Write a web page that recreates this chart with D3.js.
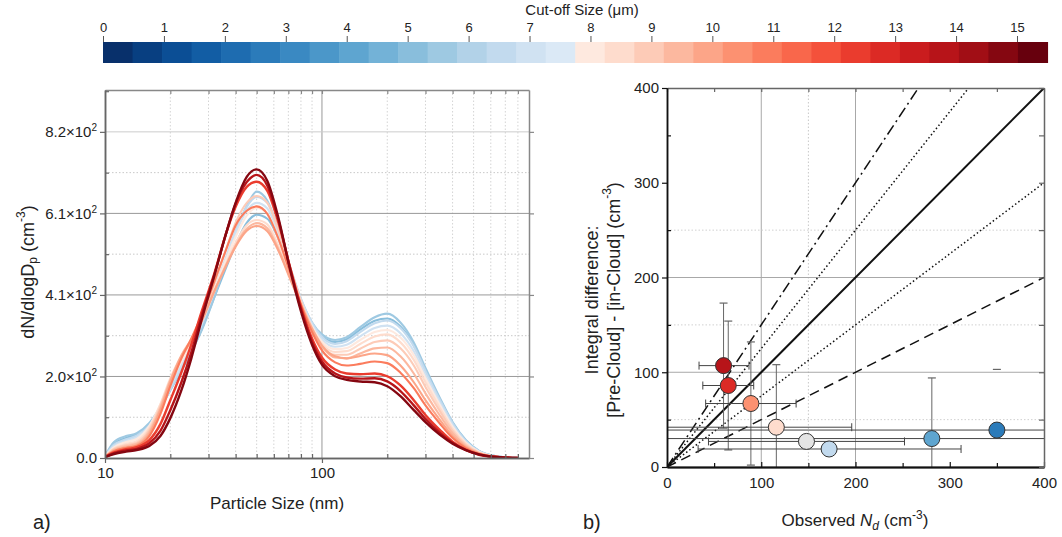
<!DOCTYPE html>
<html>
<head>
<meta charset="utf-8">
<script src="https://cdn.jsdelivr.net/npm/d3@7"></script>
<style>
  body { margin: 0; background: #fff; }
  svg { font-family: Arial, "Liberation Sans", sans-serif; }
</style>
</head>
<body>
<script>
// ---------- data ----------
// colour bar
const cutoffTicks = [0, 1, 2, 3, 4, 5, 6, 7, 8, 9, 10, 11, 12, 13, 14, 15];
const cutoffMax = 15.5;
const nLevels = 32;

// a) size distributions (nm, dN/dlogDp)
const diam = [10, 11, 12.5, 14, 16, 18, 20, 22.5, 25, 28, 32, 36, 40, 45, 50, 56, 63, 71, 80, 90,
  100, 115, 130, 150, 175, 200, 230, 265, 300, 350, 400, 460, 530, 610, 700, 800];
const curveCutoff = [5.0, 5.5, 6.5, 7.0, 8.0, 8.5, 9.0, 9.5, 10.0, 11.0, 12.5, 14.0, 15.0];
const dNdlogDp = [
  [5, 36, 50, 60, 85, 125, 170, 220, 265, 325, 405, 475, 535, 590, 610, 600, 550, 470, 392, 335, 305, 291, 298, 322, 344, 350, 330, 283, 220, 146, 88, 44, 17, 6, 2, 0],
  [5, 40, 55, 62, 88, 128, 172, 222, 268, 322, 405, 490, 565, 632, 668, 645, 572, 480, 398, 340, 310, 296, 303, 328, 353, 362, 340, 290, 226, 150, 90, 45, 18, 6, 2, 0],
  [5, 33, 47, 56, 82, 125, 172, 225, 272, 335, 420, 500, 570, 630, 655, 640, 572, 482, 400, 340, 304, 286, 293, 316, 338, 345, 326, 280, 218, 145, 87, 43, 17, 6, 2, 0],
  [4, 30, 43, 52, 80, 128, 180, 232, 280, 340, 425, 500, 565, 620, 640, 626, 560, 474, 395, 335, 298, 279, 284, 305, 326, 332, 313, 268, 208, 138, 82, 40, 16, 5, 1, 0],
  [4, 27, 40, 48, 80, 135, 190, 242, 288, 345, 425, 495, 555, 608, 627, 614, 550, 468, 390, 330, 292, 273, 276, 296, 316, 321, 302, 258, 200, 132, 78, 38, 15, 5, 1, 0],
  [4, 24, 35, 42, 75, 135, 200, 255, 295, 345, 420, 485, 540, 584, 597, 586, 532, 458, 385, 325, 286, 266, 268, 286, 305, 310, 290, 246, 190, 125, 73, 36, 14, 5, 1, 0],
  [3, 22, 32, 38, 70, 130, 195, 252, 295, 350, 440, 520, 590, 640, 657, 640, 572, 482, 395, 327, 282, 259, 259, 274, 291, 295, 275, 232, 178, 117, 68, 33, 13, 4, 1, 0],
  [3, 20, 29, 35, 65, 125, 195, 258, 298, 348, 420, 482, 533, 575, 589, 576, 524, 455, 385, 322, 280, 252, 250, 262, 275, 277, 255, 212, 162, 106, 62, 30, 12, 4, 1, 0],
  [3, 18, 26, 32, 60, 120, 190, 255, 295, 345, 420, 480, 530, 570, 582, 569, 520, 452, 384, 324, 282, 255, 250, 256, 262, 258, 232, 190, 145, 95, 55, 27, 11, 4, 1, 0],
  [3, 17, 25, 30, 55, 110, 180, 250, 300, 360, 445, 520, 583, 620, 631, 612, 550, 468, 385, 316, 270, 240, 232, 236, 242, 238, 214, 175, 132, 86, 50, 25, 10, 3, 1, 0],
  [3, 14, 22, 27, 45, 85, 145, 215, 285, 370, 465, 560, 630, 680, 693, 670, 590, 482, 380, 300, 252, 222, 212, 210, 212, 205, 182, 145, 108, 70, 41, 21, 9, 3, 1, 0],
  [2, 12, 19, 23, 37, 68, 120, 190, 265, 360, 462, 560, 638, 692, 710, 683, 597, 480, 374, 292, 242, 212, 202, 199, 200, 192, 168, 132, 98, 63, 38, 20, 8, 3, 1, 0],
  [2, 10, 16, 20, 30, 55, 100, 170, 250, 350, 460, 560, 640, 705, 724, 695, 602, 477, 368, 284, 234, 205, 196, 192, 190, 180, 155, 120, 90, 58, 36, 20, 9, 3, 1, 0]
];
const yTicksA = [0, 204.5, 409, 613.5, 818];
const yMantA = ['0.0', '2.0', '4.1', '6.1', '8.2'];
const xMinorA = [20, 30, 40, 50, 60, 70, 80, 90, 200, 300, 400, 500, 600, 700, 800];

// b) integral difference vs observed Nd
const obsNd = [60, 65, 89, 116, 148, 172, 281, 350];
const intDiff = [107, 86, 67, 42, 27, 19, 30, 39];
const ndLo = [34, 38, 41, -60, 44, 33, -500, -500];
const ndHi = [87, 92, 137, 196, 252, 312, 900, 900];
const diffLo = [41, 18, 2, -25, null, null, -35, null];
const diffHi = [173, 154, 132, 108, null, null, 94, 103];
const pointCutoff = [14.0, 12.8, 10.5, 8.5, 7.8, 6.5, 4.0, 2.5];
const refSlopes = [1.5, 1.25, 1, 0.75, 0.5];
const refDash = ['11,4,2,4', '1.5,2.5', null, '1.5,2.5', '10,6'];

// ---------- setup ----------
const svg = d3.select('body')
  .append('svg')
  .attr('width', 1062)
  .attr('height', 537);

const step = cutoffMax / nLevels;
const palette = d3.range(nLevels).map(i => i < nLevels / 2
  ? d3.interpolateBlues(1 - i * 0.86 / 15)
  : d3.interpolateReds(0.07 + (i - 16) * 0.93 / 15));
const colorOf = v => v >= 7.6 && v < 7.9 ? '#e4e4e4' : palette[Math.min(nLevels - 1, Math.floor(v / step))];

// ---------- colour bar ----------
const cb = d3.scaleLinear().domain([0, 15]).range([103, 1017]);

svg.append('g')
  .selectAll('rect')
  .data(palette)
  .enter()
  .append('rect')
  .attr('x', (d, i) => cb(i * step))
  .attr('y', 42)
  .attr('width', (d, i) => cb((i + 1) * step) - cb(i * step) + 0.6)
  .attr('height', 21)
  .attr('fill', d => d);

const cbAxis = svg.append('g')
  .attr('transform', 'translate(0,42)')
  .call(d3.axisTop(cb).tickValues(cutoffTicks).tickSize(6).tickPadding(4));
cbAxis.select('.domain').remove();
cbAxis.selectAll('line').attr('stroke', '#555');
cbAxis.selectAll('text').attr('font-size', 13).attr('fill', '#222');

svg.append('text')
  .text('Cut-off Size (μm)')
  .attr('x', 582)
  .attr('y', 15)
  .attr('text-anchor', 'middle')
  .attr('font-size', 15)
  .attr('fill', '#222');

// ---------- a) ----------
const xA = d3.scaleLog().domain([10, 900]).range([105, 529]);
const yA = d3.scaleLinear().domain([0, 923]).range([458, 90]);

const gA = svg.append('g');

gA.append('clipPath').attr('id', 'clipA')
  .append('rect')
  .attr('x', 105).attr('y', 90)
  .attr('width', 424).attr('height', 368);

const yMinorA = d3.pairs(yTicksA).map(p => (p[0] + p[1]) / 2);

gA.selectAll('line.vminor')
  .data(xMinorA)
  .enter()
  .append('line')
  .attr('x1', d => xA(d)).attr('x2', d => xA(d))
  .attr('y1', 90).attr('y2', 458)
  .attr('stroke', '#d4d4d4')
  .attr('stroke-dasharray', '1.5,2');

gA.append('line')
  .attr('x1', xA(100)).attr('x2', xA(100))
  .attr('y1', 90).attr('y2', 458)
  .attr('stroke', '#999');

gA.selectAll('line.hminor')
  .data(yMinorA)
  .enter()
  .append('line')
  .attr('x1', 105).attr('x2', 529)
  .attr('y1', d => yA(d)).attr('y2', d => yA(d))
  .attr('stroke', '#c8c8c8')
  .attr('stroke-dasharray', '1.5,2');

gA.selectAll('line.hmajor')
  .data(yTicksA.slice(1))
  .enter()
  .append('line')
  .attr('x1', 105).attr('x2', 529)
  .attr('y1', d => yA(d)).attr('y2', d => yA(d))
  .attr('stroke', (d, i) => i === 3 ? '#ccc' : '#999');

const lineA = d3.line()
  .x(d => xA(d[0]))
  .y(d => yA(d[1]))
  .curve(d3.curveMonotoneX);

gA.append('g')
  .attr('clip-path', 'url(#clipA)')
  .selectAll('path')
  .data(dNdlogDp)
  .enter()
  .append('path')
  .attr('d', ys => lineA(diam.map((x, i) => [x, ys[i]])))
  .attr('fill', 'none')
  .attr('stroke', (d, i) => colorOf(curveCutoff[i]))
  .attr('stroke-width', (d, i) => curveCutoff[i] > 11 ? 2.4 : 2.1);

function styleAxis(g, col) {
  g.select('.domain').attr('stroke', col).attr('stroke-width', 1.5);
  g.selectAll('line').attr('stroke', col).attr('stroke-width', 1.2);
  g.selectAll('text').attr('font-size', 15).attr('fill', '#222');
}

// bottom
gA.append('g').attr('transform', 'translate(0,458)')
  .call(d3.axisBottom(xA).tickValues([10, 100]).tickFormat(d3.format('d')).tickSize(5).tickPadding(4).tickSizeOuter(0))
  .call(g => styleAxis(g, '#666'));
gA.append('g').attr('transform', 'translate(0,458)')
  .call(d3.axisBottom(xA).tickValues(xMinorA).tickFormat('').tickSize(-4).tickSizeOuter(0))
  .call(g => styleAxis(g, '#666'));
// top
gA.append('g').attr('transform', 'translate(0,90)')
  .call(d3.axisTop(xA).tickValues(xMinorA.concat([100])).tickFormat('').tickSize(-4).tickSizeOuter(0))
  .call(g => styleAxis(g, '#888'));
// left
gA.append('g').attr('transform', 'translate(105,0)')
  .call(d3.axisLeft(yA).tickValues(yTicksA).tickSize(5).tickPadding(3).tickSizeOuter(0))
  .call(g => styleAxis(g, '#666'))
  .selectAll('text')
  .each(function (d) {
    const i = yTicksA.indexOf(d);
    const t = d3.select(this).text(null);
    t.append('tspan').text(yMantA[i] + (i ? '×10' : ''));
    if (i) t.append('tspan').attr('dy', -6).attr('font-size', 10).text('2');
  });
gA.append('g').attr('transform', 'translate(105,0)')
  .call(d3.axisLeft(yA).tickValues(yMinorA.concat([920])).tickFormat('').tickSize(-4).tickSizeOuter(0))
  .call(g => styleAxis(g, '#666'));
// right
gA.append('g').attr('transform', 'translate(529,0)')
  .call(d3.axisRight(yA).tickValues(yTicksA).tickFormat('').tickSize(5).tickSizeOuter(0))
  .call(g => styleAxis(g, '#888'));

gA.append('text')
  .attr('transform', 'translate(28,272) rotate(-90)')
  .attr('text-anchor', 'middle')
  .attr('dominant-baseline', 'central')
  .attr('font-size', 18)
  .attr('fill', '#222')
  .call(t => {
    t.append('tspan').text('dN/dlogD');
    t.append('tspan').attr('dy', 5).attr('font-size', 12).text('p');
    t.append('tspan').attr('dy', -5).text(' (cm');
    t.append('tspan').attr('dy', -7).attr('font-size', 12).text('-3');
    t.append('tspan').attr('dy', 7).text(')');
  });

gA.append('text')
  .text('Particle Size (nm)')
  .attr('x', 277).attr('y', 509)
  .attr('text-anchor', 'middle')
  .attr('font-size', 17)
  .attr('fill', '#222');

svg.append('text').text('a)')
  .attr('x', 33).attr('y', 529)
  .attr('font-size', 20).attr('fill', '#222');

// ---------- b) ----------
const xB = d3.scaleLinear().domain([0, 400]).range([667, 1044]);
const yB = d3.scaleLinear().domain([0, 400]).range([467, 88]);

const gB = svg.append('g');

gB.append('clipPath').attr('id', 'clipB')
  .append('rect')
  .attr('x', 667).attr('y', 88)
  .attr('width', 377).attr('height', 379);

// grid
gB.selectAll('line.vgrid')
  .data([100, 150, 200])
  .enter()
  .append('line')
  .attr('x1', d => xB(d)).attr('x2', d => xB(d))
  .attr('y1', 88).attr('y2', 467)
  .attr('stroke', d => d === 150 ? '#c8c8c8' : '#a8a8a8')
  .attr('stroke-dasharray', d => d === 150 ? '1.5,2' : null);

gB.selectAll('line.hgrid')
  .data([50, 100, 150, 200, 250])
  .enter()
  .append('line')
  .attr('x1', 667).attr('x2', 1044)
  .attr('y1', d => yB(d)).attr('y2', d => yB(d))
  .attr('stroke', d => d % 100 ? '#d0d0d0' : '#a8a8a8')
  .attr('stroke-dasharray', d => d % 100 ? '1.5,2' : null);

const clipped = gB.append('g').attr('clip-path', 'url(#clipB)');

clipped.selectAll('line.ref')
  .data(refSlopes)
  .enter()
  .append('line')
  .attr('x1', xB(0)).attr('y1', yB(0))
  .attr('x2', d => xB(400)).attr('y2', d => yB(400 * d))
  .attr('stroke', '#111')
  .attr('stroke-width', (d, i) => refDash[i] ? 1.5 : 2)
  .attr('stroke-dasharray', (d, i) => refDash[i]);

// error bars
const errCol = '#444';
const cap = 4;
obsNd.forEach((x, i) => {
  const cy = yB(intDiff[i]);
  clipped.append('line')
    .attr('x1', xB(ndLo[i])).attr('x2', xB(ndHi[i]))
    .attr('y1', cy).attr('y2', cy)
    .attr('stroke', errCol).attr('stroke-width', 1);
  [ndLo[i], ndHi[i]].forEach(v => {
    clipped.append('line')
      .attr('x1', xB(v)).attr('x2', xB(v))
      .attr('y1', cy - cap).attr('y2', cy + cap)
      .attr('stroke', errCol).attr('stroke-width', 1);
  });
  if (diffLo[i] !== null && diffHi[i] !== null) {
    clipped.append('line')
      .attr('x1', xB(x)).attr('x2', xB(x))
      .attr('y1', yB(diffLo[i])).attr('y2', yB(diffHi[i]))
      .attr('stroke', '#666').attr('stroke-width', 1);
  }
  [diffLo[i], diffHi[i]].filter(v => v !== null).forEach(v => {
    clipped.append('line')
      .attr('x1', xB(x) - cap).attr('x2', xB(x) + cap)
      .attr('y1', yB(v)).attr('y2', yB(v))
      .attr('stroke', '#666').attr('stroke-width', 1.2);
  });
});

gB.selectAll('circle')
  .data(obsNd)
  .enter()
  .append('circle')
  .attr('cx', d => xB(d))
  .attr('cy', (d, i) => yB(intDiff[i]))
  .attr('r', 8)
  .attr('fill', (d, i) => colorOf(pointCutoff[i]))
  .attr('stroke', '#333')
  .attr('stroke-width', 1);

const bTicks = [0, 100, 200, 300, 400];
const bMinor = [50, 150, 250, 350];

gB.append('g').attr('transform', 'translate(0,467)')
  .call(d3.axisBottom(xB).tickValues(bTicks).tickSize(-5).tickPadding(10).tickSizeOuter(0))
  .call(g => styleAxis(g, '#111'))
  .call(g => g.select('.domain').attr('stroke-width', 2.2));
gB.append('g').attr('transform', 'translate(0,467)')
  .call(d3.axisBottom(xB).tickValues(bMinor).tickFormat('').tickSize(-4).tickSizeOuter(0))
  .call(g => styleAxis(g, '#111'));
gB.append('g').attr('transform', 'translate(0,88)')
  .call(d3.axisTop(xB).tickValues(bTicks.concat(bMinor)).tickFormat('').tickSize(-4).tickSizeOuter(0))
  .call(g => styleAxis(g, '#666'));
gB.append('g').attr('transform', 'translate(667,0)')
  .call(d3.axisLeft(yB).tickValues(bTicks).tickSize(5).tickPadding(3).tickSizeOuter(0))
  .call(g => styleAxis(g, '#111'));
gB.append('g').attr('transform', 'translate(667,0)')
  .call(d3.axisLeft(yB).tickValues(bMinor).tickFormat('').tickSize(-4).tickSizeOuter(0))
  .call(g => styleAxis(g, '#111'));
gB.append('g').attr('transform', 'translate(1044,0)')
  .call(d3.axisRight(yB).tickValues(bTicks.concat(bMinor)).tickFormat('').tickSize(-5).tickSizeOuter(0))
  .call(g => styleAxis(g, '#666'));

gB.append('text')
  .text('Integral difference:')
  .attr('transform', 'translate(592,300) rotate(-90)')
  .attr('text-anchor', 'middle')
  .attr('dominant-baseline', 'central')
  .attr('font-size', 18)
  .attr('fill', '#222');

gB.append('text')
  .attr('transform', 'translate(614,300) rotate(-90)')
  .attr('text-anchor', 'middle')
  .attr('dominant-baseline', 'central')
  .attr('font-size', 18)
  .attr('fill', '#222')
  .call(t => {
    t.append('tspan').text('[Pre-Cloud] - [in-Cloud] (cm');
    t.append('tspan').attr('dy', -7).attr('font-size', 12).text('-3');
    t.append('tspan').attr('dy', 7).text(')');
  });

gB.append('text')
  .attr('x', 855).attr('y', 526)
  .attr('text-anchor', 'middle')
  .attr('font-size', 17)
  .attr('fill', '#222')
  .call(t => {
    t.append('tspan').text('Observed ');
    t.append('tspan').attr('font-style', 'italic').text('N');
    t.append('tspan').attr('font-style', 'italic').attr('dy', 4).attr('font-size', 12).text('d');
    t.append('tspan').attr('dy', -4).text(' (cm');
    t.append('tspan').attr('dy', -7).attr('font-size', 12).text('-3');
    t.append('tspan').attr('dy', 7).text(')');
  });

svg.append('text').text('b)')
  .attr('x', 583).attr('y', 529)
  .attr('font-size', 20).attr('fill', '#222');
</script>
</body>
</html>
